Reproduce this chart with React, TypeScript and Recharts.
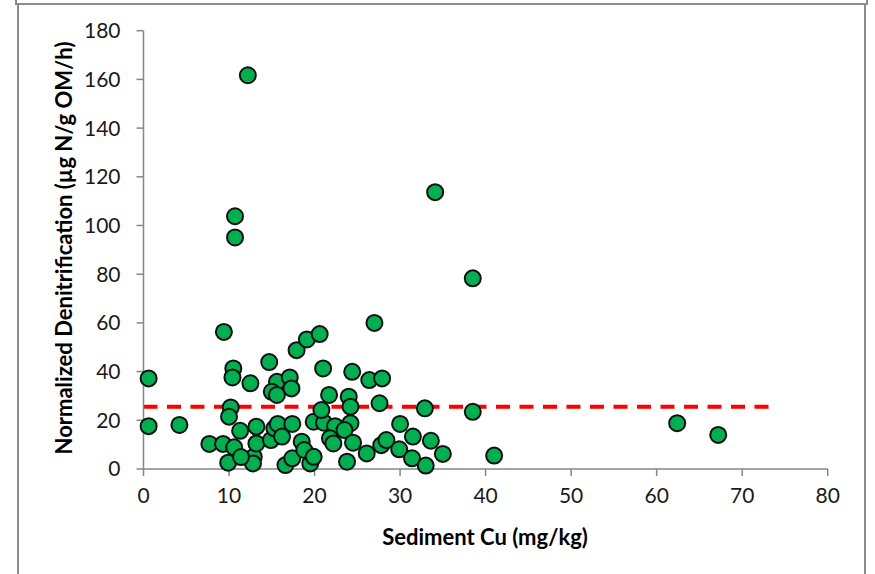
import React from "react";
import { ScatterChart, Scatter, XAxis, YAxis, ReferenceLine, Label } from "recharts";

// Sediment Cu (mg/kg) vs normalized denitrification (µg N/g OM/h)
const cu = [
  12.2, 10.7, 10.7, 34.1, 38.5, 0.6, 0.6, 4.2, 9.4, 10.5,
  10.4, 12.5, 14.7, 10.2, 10.0, 11.3, 7.7, 9.3, 10.6, 9.9,
  12.9, 12.8, 13.2, 13.2, 14.9, 15.3, 15.7, 16.2, 16.6, 17.4,
  17.4, 15.6, 15.0, 15.6, 17.1, 17.3, 17.9, 19.1, 20.6, 21.0,
  18.5, 18.8, 19.5, 19.9, 21.1, 21.7, 20.8, 27.0, 24.4, 26.4,
  27.9, 24.0, 24.2, 27.6, 32.9, 38.5, 24.2, 30.0, 22.4, 23.5,
  21.8, 22.2, 24.5, 19.9, 23.8, 26.1, 27.8, 28.4, 29.9, 31.5,
  31.4, 33.0, 33.6, 35.0, 41.0, 62.4, 67.2, 11.4,
];
const denit = [
  161.7, 103.8, 95.1, 113.7, 78.3, 37.2, 17.6, 18.1, 56.3, 41.3,
  37.6, 35.2, 43.9, 25.3, 21.5, 15.7, 10.3, 10.3, 8.9, 2.6,
  5.0, 2.3, 10.5, 17.4, 11.9, 16.7, 18.5, 13.3, 1.6, 4.4,
  18.5, 35.8, 31.7, 30.4, 37.6, 33.1, 48.8, 53.2, 55.4, 41.3,
  11.2, 7.8, 2.3, 19.4, 19.0, 30.4, 24.2, 60.0, 39.9, 36.5,
  37.2, 29.7, 25.6, 27.0, 24.9, 23.5, 18.8, 18.5, 17.6, 16.0,
  12.6, 10.5, 10.8, 5.0, 3.0, 6.4, 9.8, 11.9, 8.1, 13.3,
  4.4, 1.4, 11.6, 6.2, 5.5, 18.8, 14.0, 4.9,
];
const xTicks = [0, 10, 20, 30, 40, 50, 60, 70, 80];
const yTicks = [0, 20, 40, 60, 80, 100, 120, 140, 160, 180];
const threshold = 25.6;
const thresholdEnd = 74;

const data = cu.map((x, i) => ({ x, y: denit[i] }));

const axisColor = "#868686";
const font = "Lato, 'Open Sans', sans-serif";

const Dot = (props: any) => (
  <circle cx={props.cx} cy={props.cy} r={8} fill="#00B050" stroke="#111" strokeWidth={2} />
);

export default function App() {
  return (
    <div style={{ position: "absolute", left: 0, top: 0, width: 875, height: 574, background: "#fff" }}>
      <div style={{ position: "absolute", left: 15, top: 3, width: 853, height: 2, background: "#8c8c8c" }} />
      <div style={{ position: "absolute", left: 15, top: 0, width: 2, height: 4, background: "#8c8c8c" }} />
      <div style={{ position: "absolute", left: 866, top: 0, width: 2, height: 4, background: "#8c8c8c" }} />
      <div style={{ position: "absolute", left: 17, top: 5, width: 2, height: 569, background: "#8c8c8c" }} />
      <div style={{ position: "absolute", left: 864, top: 5, width: 2, height: 569, background: "#8c8c8c" }} />
      <div style={{ position: "absolute", left: 0, top: 0 }}>
        <ScatterChart
          width={875}
          height={574}
          margin={{ top: 30.7, right: 47.3, left: 43.5, bottom: 45 }}
          style={{ fontFamily: font }}
        >
          <XAxis
            type="number"
            dataKey="x"
            domain={[0, 80]}
            ticks={xTicks}
            interval={0}
            height={60}
            stroke={axisColor}
            strokeWidth={1.5}
            tickSize={7}
            tickMargin={12}
            tick={{ fill: "#1a1a1a", fontSize: 21, fontFamily: font }}
          >
            <Label
              content={() => (
                <text x={485} y={536} textAnchor="middle" dominantBaseline="central" fontSize={22} fontWeight="bold" fill="#000" fontFamily={font}>
                  Sediment Cu (mg/kg)
                </text>
              )}
            />
          </XAxis>
          <YAxis
            type="number"
            dataKey="y"
            domain={[0, 180]}
            ticks={yTicks}
            interval={0}
            width={100}
            stroke={axisColor}
            strokeWidth={1.5}
            tickSize={7}
            tickMargin={16}
            tick={{ fill: "#1a1a1a", fontSize: 21, fontFamily: font }}
          >
            <Label
              content={() => (
                <text x={63} y={248} transform="rotate(-90 63 248)" textAnchor="middle" dominantBaseline="central" fontSize={22} fontWeight="bold" fill="#000" fontFamily={font}>
                  Normalized Denitrification (µg N/g OM/h)
                </text>
              )}
            />
          </YAxis>
          <ReferenceLine
            segment={[{ x: 0, y: threshold }, { x: thresholdEnd, y: threshold }]}
            stroke="#FF0000"
            strokeWidth={4}
            strokeDasharray="14 9.5"
          />
          <Scatter data={data} shape={Dot} isAnimationActive={false} />
        </ScatterChart>
      </div>
    </div>
  );
}
